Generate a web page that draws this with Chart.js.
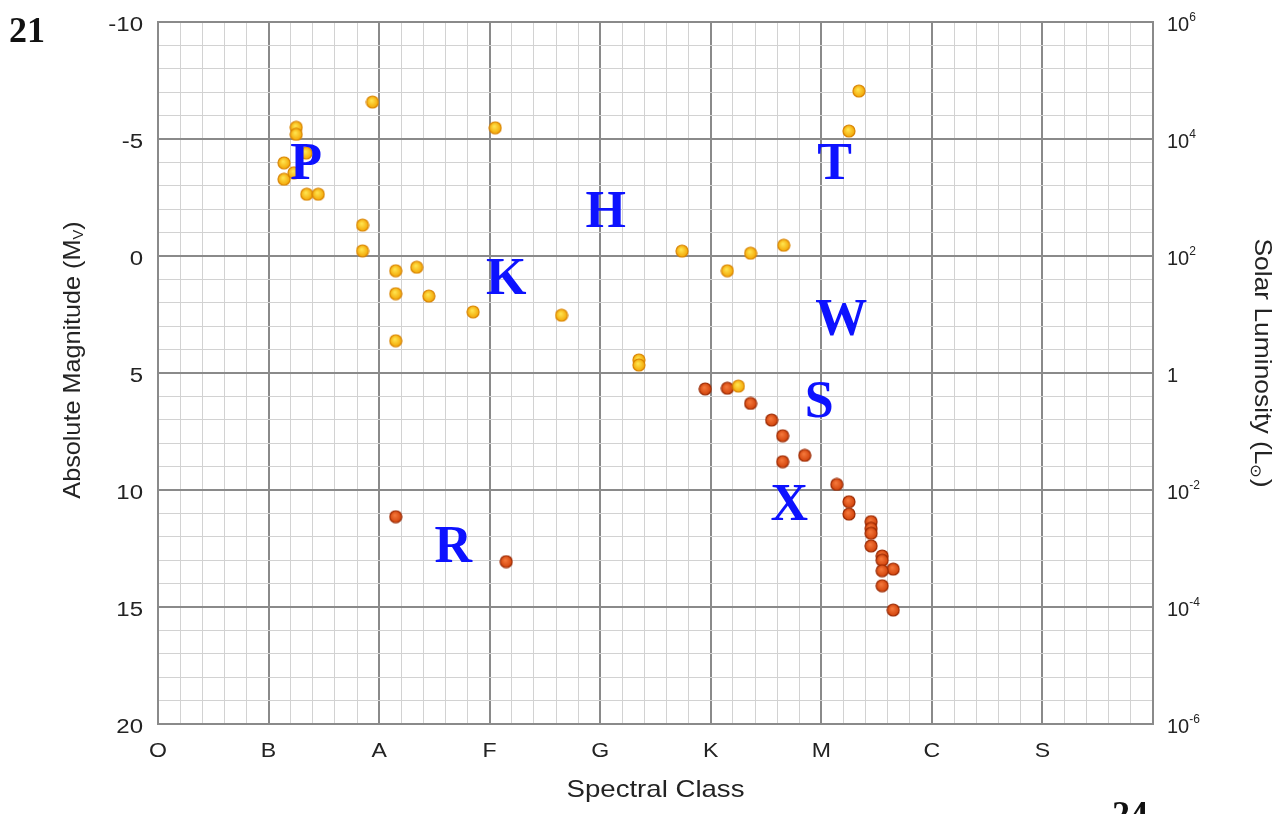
<!DOCTYPE html>
<html>
<head>
<meta charset="utf-8">
<title>H-R Diagram</title>
<script src="https://cdn.jsdelivr.net/npm/chart.js@4.4.1/dist/chart.umd.min.js"></script>
<style>
  html, body { margin: 0; padding: 0; background: #ffffff; }
  #wrap { width: 1281px; height: 814px; position: relative; }
</style>
</head>
<body>
<div id="wrap"><canvas id="hr" width="1281" height="814"></canvas></div>
<script>
// Spectral classes along the bottom axis (one per unit)
const spectralClasses = ['O', 'B', 'A', 'F', 'G', 'K', 'M', 'C', 'S'];

// Left axis magnitudes that get a label, and the matching luminosity labels on the right
const magnitudeTicks = [-10, -5, 0, 5, 10, 15, 20];
const luminosityBase = ['10', '10', '10', '1', '10', '10', '10'];
const luminosityExp = ['6', '4', '2', '', '-2', '-4', '-6'];

// Yellow-orange stars (x = spectral position, y = absolute magnitude)
const yellowX = [1.25, 1.25, 1.94, 3.05, 6.34, 6.25, 1.14, 1.14, 1.34, 1.23, 1.345, 1.45, 1.85, 1.85,
  2.15, 2.34, 2.15, 2.45, 2.85, 2.15, 3.65, 4.35, 4.35, 4.74, 5.15, 5.36, 5.66, 5.25];
const yellowY = [-5.5, -5.2, -6.58, -5.48, -7.05, -5.34, -3.98, -3.28, -4.4, -3.56, -2.64, -2.64, -1.32, -0.22,
  0.63, 0.48, 1.61, 1.71, 2.39, 3.62, 2.53, 4.44, 4.66, -0.21, 0.63, -0.12, -0.46, 5.56];

// Red stars
const redX = [4.95, 5.15, 5.36, 5.55, 5.65, 5.65, 5.85, 6.14, 6.25, 6.25, 6.45, 6.45, 6.45, 6.45,
  6.55, 6.55, 6.65, 6.55, 6.55, 6.65, 2.15, 3.15];
const redY = [5.68, 5.65, 6.3, 7.01, 7.68, 8.79, 8.52, 9.76, 10.5, 11.03, 11.35, 11.64, 11.85, 12.39,
  12.82, 13.0, 13.38, 13.45, 14.09, 15.13, 11.14, 13.06];

// Blue letter annotations placed in data coordinates
const letterText = ['P', 'T', 'H', 'K', 'W', 'S', 'X', 'R'];
const letterX = [1.34, 6.12, 4.05, 3.15, 6.18, 5.98, 5.71, 2.67];
const letterY = [-4.02, -4.02, -1.97, 0.9, 2.65, 6.15, 10.56, 12.35];

const SANS = '"Liberation Sans", Arial, Helvetica, sans-serif';
const SERIF = '"Liberation Serif", "Times New Roman", serif';
const MAJOR = '#8a8a8a';
const MINOR = '#d2d2d2';
const INK = '#232323';

const isWhole = v => Math.abs(v - Math.round(v)) < 1e-6;

const toPoints = (xs, ys) => xs.map((x, i) => ({ x: x, y: ys[i] }));

/**
 * Small shaded ball used as point style
 */
function makeDot(light, dark, rim) {
  const c = document.createElement('canvas');
  c.width = 14;
  c.height = 14;
  const g = c.getContext('2d');
  const grad = g.createRadialGradient(6, 5.5, 0.5, 7, 7, 6.5);
  grad.addColorStop(0, light);
  grad.addColorStop(1, dark);
  g.beginPath();
  g.arc(7, 7, 6, 0, Math.PI * 2);
  g.fillStyle = grad;
  g.fill();
  g.lineWidth = 1.2;
  g.strokeStyle = rim;
  g.stroke();
  return c;
}

/**
 * Draw text parts (some smaller and shifted) centred or aligned on (x, y),
 * with a horizontal stretch like the scanned slide
 */
function drawRichText(ctx, parts, x, y, opts) {
  const o = Object.assign({ angle: 0, stretch: 1, align: 'center' }, opts);
  ctx.save();
  ctx.translate(x, y);
  ctx.rotate(o.angle);
  ctx.scale(o.stretch, 1);
  ctx.textBaseline = 'middle';
  ctx.textAlign = 'left';
  let total = 0;
  parts.forEach(p => {
    ctx.font = p.size + 'px ' + SANS;
    total += ctx.measureText(p.text).width;
  });
  let cx = o.align === 'center' ? -total / 2 : (o.align === 'right' ? -total : 0);
  parts.forEach(p => {
    ctx.font = p.size + 'px ' + SANS;
    ctx.fillText(p.text, cx, p.dy || 0);
    cx += ctx.measureText(p.text).width;
  });
  ctx.restore();
}

const overlayPlugin = {
  id: 'overlay',
  afterDatasetsDraw(chart) {
    const ctx = chart.ctx;
    const xs = chart.scales.x;
    const ys = chart.scales.y;
    ctx.save();
    ctx.fillStyle = '#0d12ff';
    ctx.font = 'bold 52px ' + SERIF;
    ctx.textAlign = 'center';
    ctx.textBaseline = 'alphabetic';
    letterText.forEach((t, i) => {
      ctx.fillText(t, xs.getPixelForValue(letterX[i]), ys.getPixelForValue(letterY[i]) + 17);
    });
    ctx.restore();
  },
  afterDraw(chart) {
    const ctx = chart.ctx;
    const area = chart.chartArea;
    const xs = chart.scales.x;
    const ys = chart.scales.y;
    const ys2 = chart.scales.y2;
    ctx.save();
    ctx.fillStyle = INK;

    // tick labels
    spectralClasses.forEach((c, i) => {
      drawRichText(ctx, [{ text: c, size: 21 }], xs.getPixelForValue(i), area.bottom + 27, { stretch: 1.1 });
    });
    magnitudeTicks.forEach((m, i) => {
      drawRichText(ctx, [{ text: String(m), size: 20 }], area.left - 15, ys.getPixelForValue(m) + 3,
        { stretch: 1.2, align: 'right' });
      const parts = [{ text: luminosityBase[i], size: 20 }];
      if (luminosityExp[i]) parts.push({ text: luminosityExp[i], size: 12, dy: -7 });
      drawRichText(ctx, parts, area.right + 14, ys2.getPixelForValue(m) + 3, { align: 'left' });
    });

    // axis titles
    const midY = (area.top + area.bottom) / 2;
    drawRichText(ctx, [
      { text: 'Absolute Magnitude (M', size: 24 },
      { text: 'V', size: 14, dy: 6 },
      { text: ')', size: 24 }
    ], 73, midY - 13, { angle: -Math.PI / 2, stretch: 1.05 });
    drawRichText(ctx, [
      { text: 'Solar Luminosity (L', size: 24 },
      { text: '\u2299', size: 15, dy: 7 },
      { text: ')', size: 24 }
    ], 1262, midY - 10, { angle: Math.PI / 2, stretch: 1.1 });
    drawRichText(ctx, [{ text: 'Spectral Class', size: 24 }],
      (area.left + area.right) / 2, 790, { stretch: 1.15 });

    // page numbers from the scanned slide
    ctx.fillStyle = '#111111';
    ctx.font = 'bold 36px ' + SERIF;
    ctx.textAlign = 'left';
    ctx.textBaseline = 'alphabetic';
    ctx.fillText('21', 9, 42);
    ctx.fillText('24', 1112, 826);
    ctx.restore();
  }
};

const gridColor = c => (c.tick && c.tick.major ? MAJOR : MINOR);
const gridWidth = c => (c.tick && c.tick.major ? 2 : 1);

new Chart(document.getElementById('hr').getContext('2d'), {
  type: 'scatter',
  data: {
    datasets: [
      {
        label: 'Yellow stars',
        data: toPoints(yellowX, yellowY),
        pointStyle: makeDot('#ffe34d', '#f2a200', '#d98400'),
        pointRadius: 7,
        pointHoverRadius: 7
      },
      {
        label: 'Red stars',
        data: toPoints(redX, redY),
        pointStyle: makeDot('#f4773a', '#cf3f08', '#992800'),
        pointRadius: 7,
        pointHoverRadius: 7
      }
    ]
  },
  options: {
    responsive: false,
    animation: false,
    layout: { padding: { top: 22, left: 0, right: 0, bottom: 0 } },
    plugins: { legend: { display: false }, tooltip: { enabled: false } },
    scales: {
      x: {
        type: 'linear',
        min: 0,
        max: 9,
        afterFit: s => { s.height = 90; },
        afterBuildTicks: s => { s.ticks.forEach(t => { t.major = isWhole(t.value); }); },
        ticks: { stepSize: 0.2, autoSkip: false, display: false },
        grid: { color: gridColor, lineWidth: gridWidth, drawTicks: false },
        border: { color: MAJOR, width: 2 }
      },
      y: {
        type: 'linear',
        position: 'left',
        reverse: true,
        min: -10,
        max: 20,
        afterFit: s => { s.width = 158; },
        afterBuildTicks: s => {
          s.ticks.forEach(t => { t.major = isWhole(t.value) && magnitudeTicks.includes(Math.round(t.value)); });
        },
        ticks: { stepSize: 1, autoSkip: false, display: false },
        grid: { color: gridColor, lineWidth: gridWidth, drawTicks: false },
        border: { color: MAJOR, width: 2 }
      },
      y2: {
        type: 'linear',
        position: 'right',
        reverse: true,
        min: -10,
        max: 20,
        afterFit: s => { s.width = 128; },
        ticks: { stepSize: 5, display: false },
        grid: { drawOnChartArea: false, drawTicks: false },
        border: { color: MAJOR, width: 2 }
      }
    }
  },
  plugins: [overlayPlugin]
});
</script>
</body>
</html>
